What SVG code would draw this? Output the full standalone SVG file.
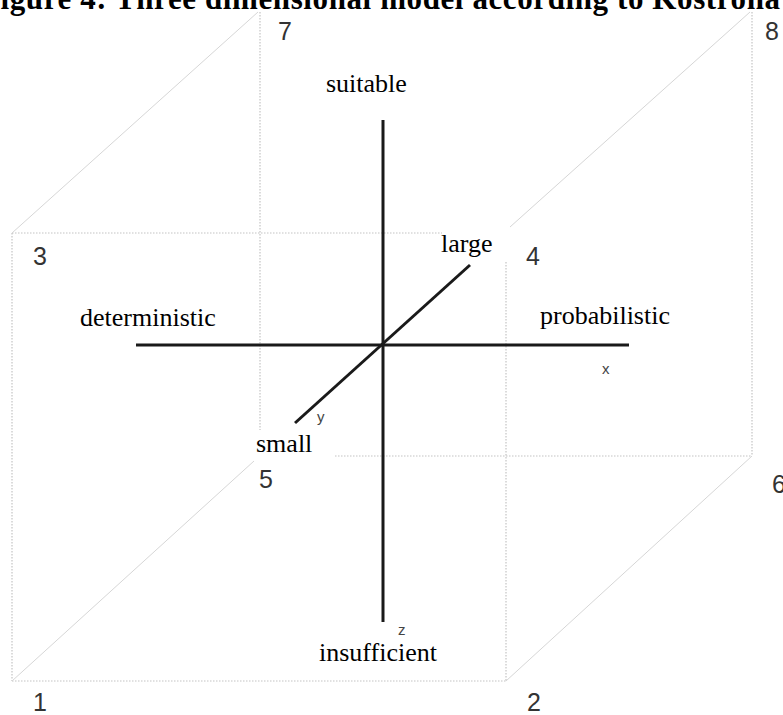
<svg xmlns="http://www.w3.org/2000/svg" width="783" height="715" viewBox="0 0 783 715">
<style>
.dot{stroke:#c4c4c4;stroke-width:1.2;stroke-dasharray:1.5 1.5;fill:none}
.diag{stroke:#d6d6d6;stroke-width:1;fill:none}
.axis{stroke:#1a1a1a;stroke-width:3;fill:none;stroke-linecap:butt}
.lbl{font-family:"Liberation Serif","Times New Roman",serif;font-size:26px;fill:#000}
.num{font-family:"Liberation Sans",Arial,sans-serif;font-size:25px;fill:#333}
.ax{font-family:"Liberation Sans",Arial,sans-serif;font-size:15px;fill:#444}
.title{font-family:"Liberation Serif","Times New Roman",serif;font-size:31px;font-weight:bold;fill:#000}
</style>
<rect width="783" height="715" fill="#fff"/>
<g id="cube">
  <line class="dot" x1="12" y1="233" x2="442" y2="233"/>
  <line class="dot" x1="12" y1="233" x2="12" y2="681"/>
  <line class="dot" x1="12" y1="681" x2="506" y2="681"/>
  <line class="dot" x1="506" y1="262" x2="506" y2="681"/>
  <line class="dot" x1="260" y1="12" x2="260" y2="430"/>
  <line class="dot" x1="335" y1="456" x2="752" y2="456"/>
  <line class="dot" x1="752" y1="12" x2="752" y2="456"/>
  <line class="diag" x1="12" y1="233" x2="258" y2="12"/>
  <line class="diag" x1="510" y1="227" x2="750" y2="12"/>
  <line class="diag" x1="12" y1="681" x2="254" y2="461"/>
  <line class="diag" x1="506" y1="681" x2="752" y2="456"/>
</g>
<g id="axes">
  <line class="axis" x1="383" y1="120" x2="383" y2="622"/>
  <line class="axis" x1="136" y1="345" x2="629" y2="345"/>
  <line class="axis" stroke-width="2.6" x1="295" y1="423" x2="470" y2="265"/>
</g>
<g id="title">
  <rect x="0" y="0" width="783" height="11" fill="#fff"/>
  <text class="title" x="-19" y="9" textLength="799" lengthAdjust="spacing">Figure 4: Three dimensional model according to Kostrona</text>
</g>
<g id="labels">
  <text class="lbl" x="326" y="92">suitable</text>
  <text class="lbl" x="319" y="661">insufficient</text>
  <text class="lbl" x="80" y="326">deterministic</text>
  <text class="lbl" x="540" y="324">probabilistic</text>
  <text class="lbl" x="441" y="252">large</text>
  <text class="lbl" x="256" y="452">small</text>
  <text class="ax" x="602" y="374">x</text>
  <text class="ax" x="317" y="422">y</text>
  <text class="ax" x="398" y="635">z</text>
</g>
<g id="corners">
  <text class="num" x="33" y="711">1</text>
  <text class="num" x="527" y="711">2</text>
  <text class="num" x="33" y="265">3</text>
  <text class="num" x="526" y="265">4</text>
  <text class="num" x="259" y="488">5</text>
  <text class="num" x="772" y="493">6</text>
  <text class="num" x="278" y="40">7</text>
  <text class="num" x="765" y="40">8</text>
</g>
</svg>
